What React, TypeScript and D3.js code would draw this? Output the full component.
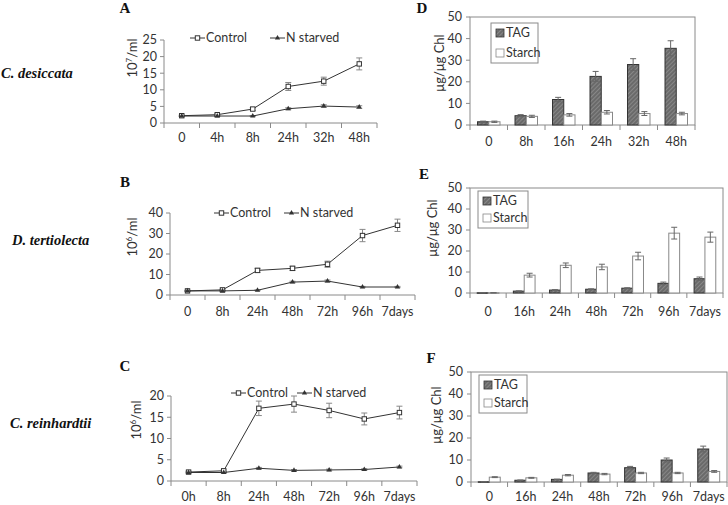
import React from 'react';
import * as d3 from 'd3';

// ---------- Data ----------
const catsA = ["0", "4h", "8h", "24h", "32h", "48h"];
const controlA = [2.2, 2.5, 4.2, 11, 12.6, 17.8];
const controlErrA = [0.2, 0.3, 0.4, 1.2, 1.2, 1.8];
const starvedA = [2.1, 2.1, 2.1, 4.3, 5.1, 4.8];
const starvedErrA = [0.1, 0.1, 0.1, 0.3, 0.4, 0.4];

const catsB = ["0", "8h", "24h", "48h", "72h", "96h", "7days"];
const controlB = [2, 2.5, 12, 13, 15, 29, 34];
const controlErrB = [0.3, 0.3, 1, 1, 1.5, 3, 3];
const starvedB = [2, 2, 2.3, 6.3, 6.8, 3.9, 3.9];
const starvedErrB = [0.2, 0.2, 0.2, 0.4, 0.5, 0.3, 0.3];

const catsC = ["0h", "8h", "24h", "48h", "72h", "96h", "7days"];
const controlC = [2.1, 2.4, 17.1, 18.1, 16.6, 14.6, 16.1];
const controlErrC = [0.2, 0.2, 1.7, 1.9, 1.7, 1.4, 1.5];
const starvedC = [2, 2, 3, 2.5, 2.6, 2.7, 3.3];
const starvedErrC = [0.1, 0.1, 0.2, 0.2, 0.2, 0.2, 0.2];

const catsD = ["0", "8h", "16h", "24h", "32h", "48h"];
const tagD = [1.5, 4.3, 11.8, 22.5, 28, 35.5];
const tagErrD = [0.3, 0.5, 1, 2.3, 2.7, 3.5];
const starchD = [1.5, 4, 4.7, 5.9, 5.3, 5.3];
const starchErrD = [0.3, 0.5, 0.6, 0.8, 0.9, 0.6];

const catsE = ["0", "16h", "24h", "48h", "72h", "96h", "7days"];
const tagE = [0.1, 0.9, 1.4, 1.8, 2.3, 4.6, 6.8];
const tagErrE = [0.05, 0.1, 0.2, 0.2, 0.2, 0.6, 0.8];
const starchE = [0.1, 8.5, 13.2, 12.4, 17.6, 28.5, 26.6];
const starchErrE = [0.05, 0.9, 1.1, 1.3, 1.8, 2.8, 2.4];

const catsF = ["0", "16h", "24h", "48h", "72h", "96h", "7days"];
const tagF = [0.1, 0.8, 1.2, 4.1, 6.5, 10, 15];
const tagErrF = [0.05, 0.1, 0.1, 0.3, 0.6, 0.9, 1.3];
const starchF = [2.2, 1.9, 3.1, 3.6, 4.1, 4.1, 4.8];
const starchErrF = [0.2, 0.2, 0.3, 0.3, 0.3, 0.3, 0.4];

const seriesNames = ["Control", "N starved"];
const barNames = ["TAG", "Starch"];

const TICK_FONT = "Lato, 'Open Sans', sans-serif";
const SERIF = "'Liberation Serif', 'DejaVu Serif', serif";
const AXIS = "#8a8a8a";
const TXT = "#333";

function Letter({ x, y, t }: { x: number; y: number; t: string }) {
  return (
    <text x={x} y={y} fontFamily={SERIF} fontWeight="bold" fontSize={15} fill="#111" textAnchor="middle">
      {t}
    </text>
  );
}

function CellLabel({ x, y, exp }: { x: number; y: number; exp: string }) {
  return (
    <text transform={`translate(${x},${y}) rotate(-90)`} textAnchor="middle" fontFamily={TICK_FONT} fontSize={13} fill={TXT}>
      <tspan>10</tspan>
      <tspan dy={-5} fontSize={8}>{exp}</tspan>
      <tspan dy={5}>/ml</tspan>
    </text>
  );
}

type LineProps = {
  cats: string[];
  control: number[];
  controlErr: number[];
  starved: number[];
  starvedErr: number[];
  x0: number;
  x1: number;
  yTop: number;
  yBottom: number;
  yMax: number;
  step: number;
  labelY: number;
  legendY: number;
  legControlX: number;
  legStarvedX: number;
};

function LineChart(p: LineProps) {
  const x = d3.scaleBand<string>().domain(p.cats).range([p.x0, p.x1]);
  const y = d3.scaleLinear().domain([0, p.yMax]).range([p.yBottom, p.yTop]);
  const ticks = d3.range(0, p.yMax + p.step / 2, p.step);
  const cx = (c: string) => (x(c) as number) + x.bandwidth() / 2;
  const line = d3
    .line<number>()
    .x((_, i) => cx(p.cats[i]))
    .y((d) => y(d));
  const bounds = d3.range(0, p.cats.length + 1).map((i) => p.x0 + i * x.bandwidth());
  const tri = d3.symbol().type(d3.symbolTriangle).size(12)() as string;
  const errBars = (vals: number[], errs: number[]) =>
    vals.map((v, i) => {
      const e = errs[i];
      const xc = cx(p.cats[i]);
      return (
        <g key={i} stroke="#888" strokeWidth={1}>
          <line x1={xc} x2={xc} y1={y(v + e)} y2={y(v - e)} />
          <line x1={xc - 3} x2={xc + 3} y1={y(v + e)} y2={y(v + e)} />
          <line x1={xc - 3} x2={xc + 3} y1={y(v - e)} y2={y(v - e)} />
        </g>
      );
    });
  return (
    <g>
      <line x1={p.x0} x2={p.x0} y1={p.yTop} y2={p.yBottom} stroke={AXIS} />
      <line x1={p.x0} x2={p.x1} y1={p.yBottom} y2={p.yBottom} stroke={AXIS} />
      {ticks.map((t) => (
        <g key={t}>
          <line x1={p.x0 - 4} x2={p.x0} y1={y(t)} y2={y(t)} stroke={AXIS} />
          <text x={p.x0 - 7} y={y(t)} dy="0.35em" textAnchor="end" fontFamily={TICK_FONT} fontSize={12.5} fill={TXT}>
            {t}
          </text>
        </g>
      ))}
      {bounds.map((b, i) => (
        <line key={i} x1={b} x2={b} y1={p.yBottom} y2={p.yBottom + 5} stroke={AXIS} />
      ))}
      {p.cats.map((c) => (
        <text key={c} x={cx(c)} y={p.labelY} dy="0.35em" textAnchor="middle" fontFamily={TICK_FONT} fontSize={12.5} fill={TXT}>
          {c}
        </text>
      ))}
      {errBars(p.control, p.controlErr)}
      {errBars(p.starved, p.starvedErr)}
      <path d={line(p.control) as string} fill="none" stroke="#333" strokeWidth={1} />
      <path d={line(p.starved) as string} fill="none" stroke="#333" strokeWidth={1} />
      {p.control.map((v, i) => (
        <rect key={i} x={cx(p.cats[i]) - 2.2} y={y(v) - 2.2} width={4.4} height={4.4} fill="#fff" stroke="#333" strokeWidth={1} />
      ))}
      {p.starved.map((v, i) => (
        <path key={i} d={tri} transform={`translate(${cx(p.cats[i])},${y(v)})`} fill="#333" />
      ))}
      <g>
        <line x1={p.legControlX} x2={p.legControlX + 15} y1={p.legendY} y2={p.legendY} stroke="#333" />
        <rect x={p.legControlX + 5.3} y={p.legendY - 2.2} width={4.4} height={4.4} fill="#fff" stroke="#333" />
        <text x={p.legControlX + 16} y={p.legendY} dy="0.35em" fontFamily={TICK_FONT} fontSize={12.5} fill={TXT}>
          {seriesNames[0]}
        </text>
        <line x1={p.legStarvedX} x2={p.legStarvedX + 15} y1={p.legendY} y2={p.legendY} stroke="#333" />
        <path d={tri} transform={`translate(${p.legStarvedX + 7.5},${p.legendY})`} fill="#333" />
        <text x={p.legStarvedX + 16} y={p.legendY} dy="0.35em" fontFamily={TICK_FONT} fontSize={12.5} fill={TXT}>
          {seriesNames[1]}
        </text>
      </g>
    </g>
  );
}

type BarProps = {
  cats: string[];
  tag: number[];
  tagErr: number[];
  starch: number[];
  starchErr: number[];
  left: number;
  right: number;
  top: number;
  bottom: number;
  labelY: number;
  legX: number;
  legY: number;
  legW: number;
  legH: number;
  yLabelX: number;
  yLabelY: number;
};

function BarChart(p: BarProps) {
  const x = d3.scaleBand<string>().domain(p.cats).range([p.left, p.right]);
  const y = d3.scaleLinear().domain([0, 50]).range([p.bottom, p.top]);
  const ticks = d3.range(0, 51, 10);
  const bw = x.bandwidth() * 0.3;
  const cx = (c: string) => (x(c) as number) + x.bandwidth() / 2;
  const bounds = d3.range(0, p.cats.length + 1).map((i) => p.left + i * x.bandwidth());
  const err = (xc: number, v: number, e: number, k: string) => (
    <g key={k} stroke="#666" strokeWidth={1}>
      <line x1={xc} x2={xc} y1={y(v + e)} y2={y(Math.max(0, v - e))} />
      <line x1={xc - 3} x2={xc + 3} y1={y(v + e)} y2={y(v + e)} />
      <line x1={xc - 3} x2={xc + 3} y1={y(Math.max(0, v - e))} y2={y(Math.max(0, v - e))} />
    </g>
  );
  return (
    <g>
      <rect x={p.left} y={p.top} width={p.right - p.left} height={p.bottom - p.top} fill="#fff" stroke={AXIS} />
      {ticks.map((t) => (
        <g key={t}>
          <line x1={p.left - 4} x2={p.left} y1={y(t)} y2={y(t)} stroke={AXIS} />
          <text x={p.left - 8} y={y(t)} dy="0.35em" textAnchor="end" fontFamily={TICK_FONT} fontSize={12.5} fill={TXT}>
            {t}
          </text>
        </g>
      ))}
      {bounds.map((b, i) => (
        <line key={i} x1={b} x2={b} y1={p.bottom} y2={p.bottom + 5} stroke={AXIS} />
      ))}
      {p.cats.map((c) => (
        <text key={c} x={cx(c)} y={p.labelY} dy="0.35em" textAnchor="middle" fontFamily={TICK_FONT} fontSize={12.5} fill={TXT}>
          {c}
        </text>
      ))}
      {p.tag.map((v, i) => {
        const xc = cx(p.cats[i]);
        return (
          <rect key={"t" + i} x={xc - bw} y={y(v)} width={bw} height={Math.max(0.5, p.bottom - y(v))} fill="url(#hatch)" stroke="#333" strokeWidth={1} />
        );
      })}
      {p.starch.map((v, i) => {
        const xc = cx(p.cats[i]);
        return (
          <rect key={"s" + i} x={xc} y={y(v)} width={bw} height={Math.max(0.5, p.bottom - y(v))} fill="#fff" stroke="#888" strokeWidth={1} />
        );
      })}
      {p.tag.map((v, i) => err(cx(p.cats[i]) - bw / 2, v, p.tagErr[i], "et" + i))}
      {p.starch.map((v, i) => err(cx(p.cats[i]) + bw / 2, v, p.starchErr[i], "es" + i))}
      <rect x={p.legX} y={p.legY} width={p.legW} height={p.legH} fill="#fff" stroke={AXIS} />
      <rect x={p.legX + 5} y={p.legY + 6} width={8} height={8} fill="url(#hatch)" stroke="#333" strokeWidth={0.8} />
      <text x={p.legX + 15} y={p.legY + 10} dy="0.35em" fontFamily={TICK_FONT} fontSize={12.5} fill={TXT}>
        {barNames[0]}
      </text>
      <rect x={p.legX + 5} y={p.legY + p.legH - 14} width={8} height={8} fill="#fff" stroke="#888" strokeWidth={0.8} />
      <text x={p.legX + 15} y={p.legY + p.legH - 10} dy="0.35em" fontFamily={TICK_FONT} fontSize={12.5} fill={TXT}>
        {barNames[1]}
      </text>
      <text transform={`translate(${p.yLabelX},${p.yLabelY}) rotate(-90)`} textAnchor="middle" fontFamily={TICK_FONT} fontSize={13} fill={TXT}>
        μg/μg Chl
      </text>
    </g>
  );
}

export default function App() {
  return (
    <svg width={728} height={505} style={{ position: 'absolute', left: 0, top: 0, background: '#fff' }}>
      <defs>
        <pattern id="hatch" width={3} height={3} patternUnits="userSpaceOnUse" patternTransform="rotate(45)">
          <rect width={3} height={3} fill="#6a6a6a" />
          <line x1={0} y1={0} x2={0} y2={3} stroke="#9a9a9a" strokeWidth={1.2} />
        </pattern>
      </defs>
      <rect width={728} height={505} fill="#fff" />
      <text x={1} y={78} fontFamily={SERIF} fontStyle="italic" fontWeight="bold" fontSize={14.5} fill="#111">C. desiccata</text>
      <text x={12} y={245} fontFamily={SERIF} fontStyle="italic" fontWeight="bold" fontSize={14.5} fill="#111">D. tertiolecta</text>
      <text x={10} y={428} fontFamily={SERIF} fontStyle="italic" fontWeight="bold" fontSize={14.5} fill="#111">C. reinhardtii</text>

      <Letter x={125} y={13} t="A" />
      <Letter x={125} y={187} t="B" />
      <Letter x={125} y={371} t="C" />
      <Letter x={422} y={13} t="D" />
      <Letter x={424} y={179} t="E" />
      <Letter x={431} y={363} t="F" />

      <CellLabel x={137} y={58} exp="7" />
      <CellLabel x={137} y={237} exp="6" />
      <CellLabel x={141} y={420} exp="6" />

      <LineChart cats={catsA} control={controlA} controlErr={controlErrA} starved={starvedA} starvedErr={starvedErrA}
        x0={164} x1={377} yTop={40} yBottom={123} yMax={25} step={5} labelY={138}
        legendY={38} legControlX={190} legStarvedX={270} />
      <LineChart cats={catsB} control={controlB} controlErr={controlErrB} starved={starvedB} starvedErr={starvedErrB}
        x0={170} x1={415} yTop={213} yBottom={295} yMax={40} step={10} labelY={312}
        legendY={213} legControlX={214} legStarvedX={284} />
      <LineChart cats={catsC} control={controlC} controlErr={controlErrC} starved={starvedC} starvedErr={starvedErrC}
        x0={171} x1={417} yTop={396} yBottom={481} yMax={20} step={5} labelY={497}
        legendY={393} legControlX={231} legStarvedX={297} />

      <BarChart cats={catsD} tag={tagD} tagErr={tagErrD} starch={starchD} starchErr={starchErrD}
        left={470} right={695} top={17} bottom={125} labelY={142}
        legX={491} legY={23} legW={47} legH={40} yLabelX={444} yLabelY={63} />
      <BarChart cats={catsE} tag={tagE} tagErr={tagErrE} starch={starchE} starchErr={starchErrE}
        left={470} right={723} top={188} bottom={293} labelY={312}
        legX={478} legY={191} legW={50} legH={37} yLabelX={437} yLabelY={228} />
      <BarChart cats={catsF} tag={tagF} tagErr={tagErrF} starch={starchF} starchErr={starchErrF}
        left={471} right={727} top={372} bottom={482} labelY={497}
        legX={479} legY={375} legW={48} legH={38} yLabelX={441} yLabelY={415} />
    </svg>
  );
}
